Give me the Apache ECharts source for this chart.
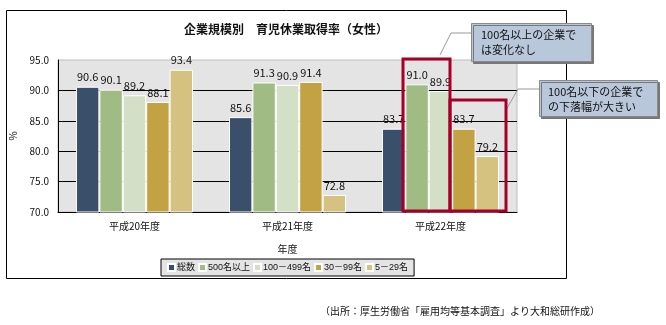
<!DOCTYPE html>
<html><head><meta charset="utf-8">
<script src="https://cdn.jsdelivr.net/npm/echarts@6/dist/echarts.min.js"></script>
<style>html,body{margin:0;padding:0;background:#fff}#c{width:666px;height:325px}</style>
</head><body><div id="c"></div>
<script>
const categories = ['平成20年度', '平成21年度', '平成22年度'];
const seriesNames = ['総数', '500名以上', '100－499名', '30－99名', '5－29名'];
const total = [90.6, 85.6, 83.7];
const over500 = [90.1, 91.3, 91.0];
const s100to499 = [89.2, 90.9, 89.9];
const s30to99 = [88.1, 91.4, 83.7];
const s5to29 = [93.4, 72.8, 79.2];
const yTicks = [70, 75, 80, 85, 90, 95];
const colors = ['#3a4f6a', '#a0bb84', '#d3dfc6', '#c3a244', '#d5c281'];
const values = [total, over500, s100to499, s30to99, s5to29];
const FONT = '"Noto Sans CJK JP", "Noto Sans", sans-serif';

const chart = echarts.init(document.getElementById('c'), null, {renderer: 'canvas'});
chart.setOption({
  animation: false,
  textStyle: {fontFamily: FONT},
  title: {
    text: '企業規模別　育児休業取得率（女性）',
    left: 179, top: 18,
    textStyle: {fontSize: 12, fontWeight: 'bold', color: '#111', fontFamily: FONT}
  },
  grid: {left: 58, right: 149, top: 60, bottom: 113, show: true,
    backgroundColor: '#e4e4e4', borderColor: '#bdbdbd', borderWidth: 1},
  legend: {
    data: seriesNames,
    left: 161, top: 259,
    backgroundColor: '#e4e4e4', borderColor: '#000', borderWidth: 1,
    padding: [4, 6], itemWidth: 7, itemHeight: 7, itemGap: 3,
    icon: 'rect',
    textStyle: {fontSize: 9, color: '#111', padding: [0, 0, 0, -3],
      fontFamily: '"Liberation Sans", "Noto Sans CJK JP", sans-serif'}
  },
  xAxis: {
    type: 'category', data: categories,
    name: '年度', nameLocation: 'middle', nameGap: 32,
    nameTextStyle: {fontSize: 10, color: '#111'},
    axisLine: {lineStyle: {color: '#000', width: 1}},
    axisTick: {inside: true, length: 3, lineStyle: {color: '#000'}},
    axisLabel: {fontSize: 10, color: '#111', margin: 9}
  },
  yAxis: {
    type: 'value', min: yTicks[0], max: yTicks[yTicks.length - 1], interval: 5,
    name: '%', nameLocation: 'middle', nameRotate: 90, nameGap: 36,
    nameTextStyle: {fontSize: 10, color: '#111'},
    axisLine: {show: true, lineStyle: {color: '#000', width: 1}},
    axisTick: {show: false},
    axisLabel: {fontSize: 10, color: '#111', margin: 9, formatter: v => v.toFixed(1)},
    splitLine: {show: true, showMaxLine: false, lineStyle: {color: '#000', width: 1}}
  },
  series: seriesNames.map((n, i) => ({
    name: n, type: 'bar', data: values[i],
    barGap: '0%', barCategoryGap: '23.5%',
    itemStyle: {color: colors[i], borderColor: '#fff', borderWidth: 1},
    label: {show: true, position: 'top', distance: 4, fontSize: 11, color: '#111',
      formatter: p => p.value.toFixed(1)}
  })),
  graphic: [
    {type: 'rect', shape: {x: 6.5, y: 10.5, width: 560, height: 268}, silent: true, z: -10,
      style: {fill: 'none', stroke: '#000', lineWidth: 1}},
    {type: 'polyline', shape: {points: [[471, 33], [451, 33], [440, 55]]}, z: 100,
      style: {fill: 'none', stroke: '#999', lineWidth: 1}},
    {type: 'polyline', shape: {points: [[539, 89], [518, 89], [506, 110]]}, z: 100,
      style: {fill: 'none', stroke: '#999', lineWidth: 1}},
    {type: 'rect', shape: {x: 403, y: 59, width: 47, height: 152}, z: 100,
      style: {fill: 'none', stroke: '#a5002a', lineWidth: 3}},
    {type: 'rect', shape: {x: 450, y: 100, width: 56, height: 111}, z: 100,
      style: {fill: 'none', stroke: '#a5002a', lineWidth: 3}},
    {type: 'rect', shape: {x: 471.5, y: 23.5, width: 120, height: 38}, z: 100,
      style: {fill: '#b9c7da', stroke: '#8a8a8a', lineWidth: 1,
        shadowBlur: 0, shadowOffsetX: 2, shadowOffsetY: 2, shadowColor: '#777'}},
    {type: 'text', left: 481, top: 27, z: 101,
      style: {text: '100名以上の企業で\nは変化なし', fontSize: 11, lineHeight: 15, fill: '#111', fontFamily: FONT}},
    {type: 'rect', shape: {x: 539.5, y: 80.5, width: 118, height: 36}, z: 100,
      style: {fill: '#b9c7da', stroke: '#8a8a8a', lineWidth: 1,
        shadowBlur: 0, shadowOffsetX: 2, shadowOffsetY: 2, shadowColor: '#777'}},
    {type: 'text', left: 548, top: 84, z: 101,
      style: {text: '100名以下の企業で\nの下落幅が大きい', fontSize: 11, lineHeight: 15, fill: '#111', fontFamily: FONT}},
    {type: 'text', right: 66, top: 306, z: 101,
      style: {text: '（出所：厚生労働省「雇用均等基本調査」より大和総研作成）', fontSize: 10, fill: '#111', fontFamily: FONT}}
  ]
});
</script></body></html>
